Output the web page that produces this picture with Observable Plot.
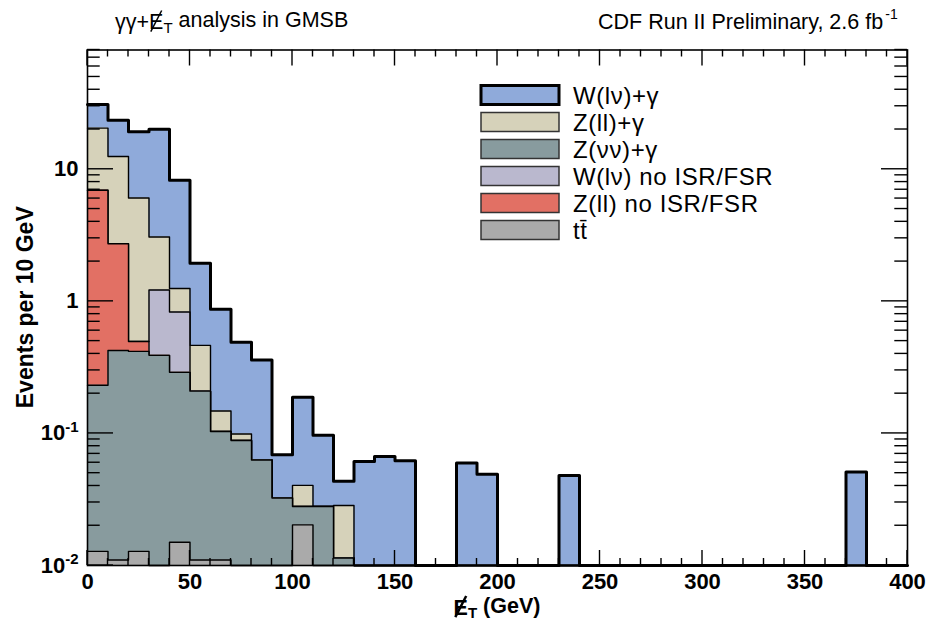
<!DOCTYPE html>
<html><head><meta charset="utf-8">
<script src="https://cdn.jsdelivr.net/npm/d3@7"></script>
<script src="https://cdn.jsdelivr.net/npm/@observablehq/plot@0.6"></script>
<style>
body{margin:0;background:#fff}
</style>
</head><body><div id="chart"></div>
<script>
// ---- data (events per 10 GeV bin, bins 0-10 ... 390-400) ----
const binLow = d3.range(0, 400, 10);
const xMajorTicks = [0, 50, 100, 150, 200, 250, 300, 350, 400];
const yLabelTicks = [0.01, 0.1, 1, 10];
const yMin = 0.01, yMax = 80;

const ttbar      = [0.0128,0.011,0.0128,0,0.015,0.011,0.011,0,0,0, 0.0203,0,0,0,0,0,0,0,0,0, 0,0,0,0,0,0,0,0,0,0, 0,0,0,0,0,0,0,0,0,0];
const zNuNuGamma = [0.219,0.414,0.405,0.39,0.275,0.198,0.0925,0.0885,0.063,0.0324, 0.0077,0.028,0.0114,0,0,0,0,0,0,0, 0,0,0,0,0,0,0,0,0,0, 0,0,0,0,0,0,0,0,0,0];
const zllNoIsr   = [6.70,2.305,0.079,0,0,0,0,0,0,0, 0,0,0,0,0,0,0,0,0,0, 0,0,0,0,0,0,0,0,0,0, 0,0,0,0,0,0,0,0,0,0];
const wlnNoIsr   = [0,0,0,0.83,0.54,0,0,0,0,0, 0,0,0,0,0,0,0,0,0,0, 0,0,0,0,0,0,0,0,0,0, 0,0,0,0,0,0,0,0,0,0];
const zllGamma   = [13.57,9.77,5.56,1.85,0.42,0.255,0.0445,0.0105,0,0, 0.0124,0,0.0171,0,0,0,0,0,0,0, 0,0,0,0,0,0,0,0,0,0, 0,0,0,0,0,0,0,0,0,0];
const wlnGamma   = [10.5,11.0,13.14,17.03,7.01,1.476,0.722,0.391,0.297,0.0366, 0.1476,0.069,0.015,0.0614,0.067,0.062,0,0,0.0597,0.049, 0,0,0,0.048,0,0,0,0,0,0, 0,0,0,0,0,0,0,0.051,0,0];

// stack order bottom -> top
const stackNames  = ["tt\u0304", "Z(\u03bd\u03bd)+\u03b3", "Z(ll) no ISR/FSR", "W(l\u03bd) no ISR/FSR", "Z(ll)+\u03b3", "W(l\u03bd)+\u03b3"];
const stackValues = [ttbar, zNuNuGamma, zllNoIsr, wlnNoIsr, zllGamma, wlnGamma];
const stackColors = ["#aaaaaa", "#889b9e", "#e27064", "#bab8ce", "#d6d2ba", "#8faada"];
const legendOrder = [5, 4, 1, 3, 2, 0];

const FONT = '"Liberation Sans", Arial, Helvetica, sans-serif';

// ---- build cumulative step rows ----
let cum = binLow.map(() => 0);
const layers = stackValues.map((vals, li) => {
  cum = cum.map((c, i) => c + vals[i]);
  const rows = binLow.map((x, i) => ({x, top: Math.max(cum[i], yMin), base: yMin}));
  rows.push({x: 400, top: rows[rows.length - 1].top, base: yMin});
  return {rows, color: stackColors[li]};
});

const marks = [];
for (let li = layers.length - 1; li >= 0; li--) {
  const L = layers[li];
  marks.push(Plot.areaY(L.rows, {x: "x", y1: "base", y2: "top", curve: "step-after", fill: L.color}));
  marks.push(Plot.lineY(L.rows, {x: "x", y: "top", curve: "step-after", stroke: "#000",
    strokeWidth: li === layers.length - 1 ? 3 : 1.4}));
}

const supMap = {0.01: "10^-2", 0.1: "10^-1", 1: "1", 10: "10"};
marks.push(
  Plot.axisX({ticks: xMajorTicks, tickSize: 0, tickPadding: 8, fontSize: 22, fontWeight: "bold", label: null}),
  Plot.axisY({ticks: yLabelTicks, tickSize: 0, tickPadding: 9, fontSize: 22, fontWeight: "bold", label: null,
    tickFormat: d => supMap[d]}),
  Plot.frame({stroke: "#000", strokeWidth: 1.6})
);

const plot = Plot.plot({
  width: 928, height: 623,
  marginLeft: 87, marginRight: 21, marginTop: 49.5, marginBottom: 58,
  style: {fontFamily: FONT, background: "#fff"},
  x: {domain: [0, 400]},
  y: {type: "log", domain: [yMin, yMax]},
  marks
});
document.getElementById("chart").appendChild(plot);

const svg = d3.select(plot);
const sx = plot.scale("x"), sy = plot.scale("y");
const fx = v => sx.apply(v), fy = v => sy.apply(v);

// superscript tick labels
svg.selectAll('g[aria-label="y-axis tick label"] text').each(function() {
  const t = d3.select(this);
  const s = t.text();
  if (s.includes("^")) {
    const [b, e] = s.split("^");
    t.text(b);
    t.append("tspan").attr("font-size", 15).attr("dy", "-0.55em").text(e);
  }
});

// inward ticks on all four sides
const g = svg.append("g").attr("stroke", "#000").attr("stroke-width", 1.4);
const x0 = fx(0), x1 = fx(400), yb = fy(yMin), yt = fy(yMax);
for (let v = 0; v <= 400; v += 10) {
  const major = v % 50 === 0;
  const X = fx(v);
  g.append("line").attr("x1", X).attr("x2", X).attr("y1", yb).attr("y2", yb - (major ? 15 : 7));
  g.append("line").attr("x1", X).attr("x2", X).attr("y1", yt).attr("y2", yt + (major ? 16 : 7));
}
for (let e = -2; e <= 1; e++) {
  for (let k = 1; k <= 9; k++) {
    const v = k * Math.pow(10, e);
    if (v > yMax) continue;
    const Y = fy(v), len = k === 1 ? 26 : 12.7;
    g.append("line").attr("x1", x0).attr("x2", x0 + len).attr("y1", Y).attr("y2", Y);
    g.append("line").attr("x1", x1).attr("x2", x1 - len).attr("y1", Y).attr("y2", Y);
  }
}

// axis titles
svg.append("text").attr("transform", `translate(25,${(yt + yb) / 2}) rotate(-90)`)
  .attr("text-anchor", "middle").attr("dy", "0.35em").attr("font-size", 23).attr("font-weight", "bold")
  .text("Events per 10 GeV");

// missing-ET symbol: "E" + subscript "T", with a drawn slash across the E
function metTitle(sel, size) {
  sel.append("tspan").text("E");
  sel.append("tspan").attr("dy", "0.25em").attr("font-size", size * 0.7).text("T");
}
function addSlash(textSel, charIndex, baseline, size, sw) {
  const box = textSel.node().getExtentOfChar(charIndex);
  svg.append("line")
    .attr("x1", box.x + box.width * 0.12).attr("y1", baseline + 0.12 * size)
    .attr("x2", box.x + box.width * 0.88).attr("y2", baseline - 0.86 * size)
    .attr("stroke", "#000").attr("stroke-width", sw);
}
const xtBase = 614.5, xtSize = 21.5;
const xt = svg.append("text").attr("x", (x0 + x1) / 2).attr("y", xtBase).attr("text-anchor", "middle")
  .attr("font-size", xtSize).attr("font-weight", "bold");
metTitle(xt, xtSize);
xt.append("tspan").attr("dy", "-0.25em").attr("font-size", xtSize).text(" (GeV)");
addSlash(xt, 0, xtBase, xtSize, 2.5);

// top titles
const tl = svg.append("text").attr("x", 115).attr("y", 29).attr("font-size", 21.5).attr("text-anchor", "start");
tl.append("tspan").text("\u03b3\u03b3+");
metTitle(tl, 21.5);
tl.append("tspan").attr("dy", "-0.25em").attr("font-size", 21.5).text(" analysis in GMSB");
addSlash(tl, 3, 29, 21.5, 1.5);

const tr = svg.append("text").attr("x", 598).attr("y", 29).attr("font-size", 21.5).attr("text-anchor", "start");
tr.append("tspan").text("CDF Run II Preliminary, 2.6 fb");
tr.append("tspan").attr("font-size", 14).attr("dy", "-0.75em").attr("dx", "0.15em").text("-1");

// legend
const lg = svg.append("g");
legendOrder.forEach((li, r) => {
  const cy = 95 + r * 27;
  lg.append("rect").attr("x", 481).attr("y", cy - 9.5).attr("width", 78).attr("height", 19)
    .attr("fill", stackColors[li]).attr("stroke", li === 5 ? "#000" : "#333")
    .attr("stroke-width", li === 5 ? 3 : 1.5);
  lg.append("text").attr("x", 573).attr("y", cy).attr("dy", "0.36em").attr("font-size", 24)
    .attr("letter-spacing", 0.6).attr("text-anchor", "start").text(stackNames[li]);
});
</script>
</body></html>
